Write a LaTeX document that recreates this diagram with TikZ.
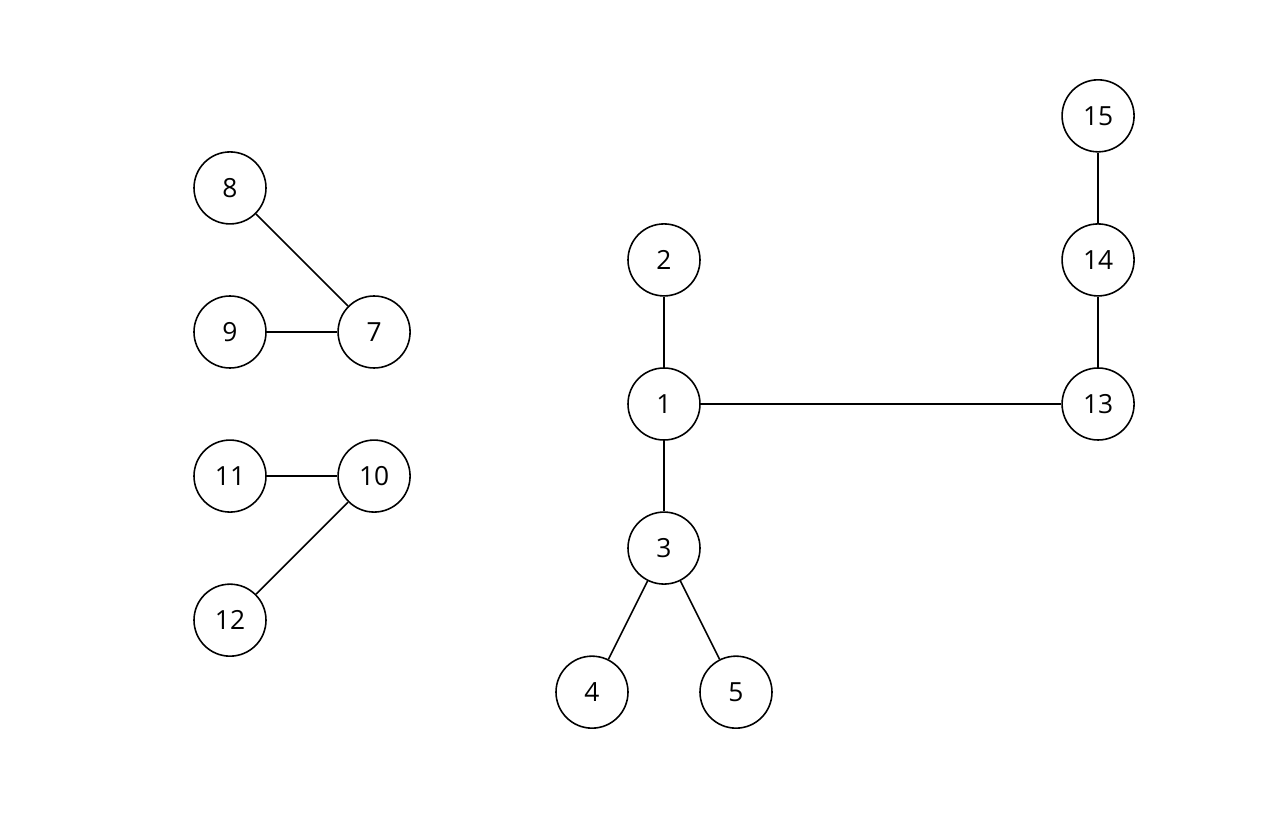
\documentclass[tikz,border=0pt]{standalone}
\usepackage{fontspec}
\setmainfont{Open Sans}
\usetikzlibrary{positioning}

\begin{document}
\begin{tikzpicture}[
        font=\fontsize{15}{17}\selectfont,
        node distance=1.41cm and 1.41cm,
        vertex/.style={draw, circle, line width=0.9pt, minimum size=1.44cm, inner sep=0pt},
        edge/.style={line width=0.9pt}
    ]
        \useasboundingbox (0,0) rectangle (25.6,-16.32);

        % left part
        \node[vertex] (n9) at (4.6,-6.64) {9};
        \node[vertex, above=of n9] (n8) {8};
        \node[vertex, right=of n9] (n7) {7};
        \node[vertex, below=of n9] (n11) {11};
        \node[vertex, right=of n11] (n10) {10};
        \node[vertex, below=of n11] (n12) {12};

        % right part
        \node[vertex] (n1) at (13.28,-8.08) {1};
        \node[vertex, above=of n1] (n2) {2};
        \node[vertex, below=of n1] (n3) {3};
        \node[vertex, below=of n3, xshift=-1.44cm] (n4) {4};
        \node[vertex, below=of n3, xshift=1.44cm] (n5) {5};
        \node[vertex, right=7.21cm of n1] (n13) {13};
        \node[vertex, above=of n13] (n14) {14};
        \node[vertex, above=of n14] (n15) {15};

        \draw[edge] (n8) -- (n7);
        \draw[edge] (n9) -- (n7);
        \draw[edge] (n11) -- (n10);
        \draw[edge] (n12) -- (n10);
        \draw[edge] (n2) -- (n1);
        \draw[edge] (n1) -- (n3);
        \draw[edge] (n3) -- (n4);
        \draw[edge] (n3) -- (n5);
        \draw[edge] (n1) -- (n13);
        \draw[edge] (n13) -- (n14);
        \draw[edge] (n14) -- (n15);
    \end{tikzpicture}
\end{document}
